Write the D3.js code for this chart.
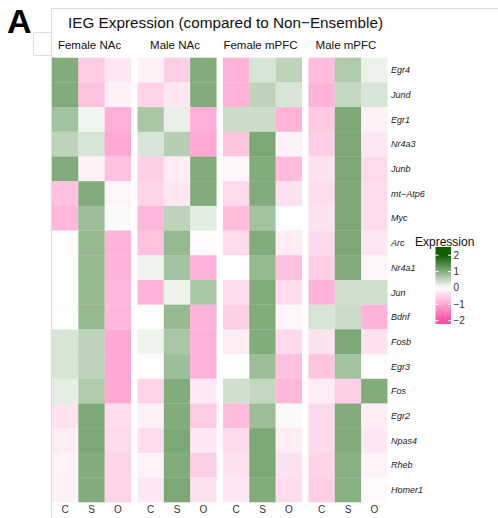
<!DOCTYPE html>
<html>
<head>
<meta charset="utf-8">
<script src="https://cdn.jsdelivr.net/npm/d3@7"></script>
<style>
  html, body { margin: 0; padding: 0; background: #fff; }
  svg { display: block; font-family: "Liberation Sans", Arial, Helvetica, sans-serif; }
</style>
</head>
<body>
<svg id="chart" width="498" height="518"></svg>
<script>
// Genes (rows, top to bottom)
const genes = ["Egr4", "Jund", "Egr1", "Nr4a3", "Junb", "mt\u2212Atp6", "Myc", "Arc", "Nr4a1",
               "Jun", "Bdnf", "Fosb", "Egr3", "Fos", "Egr2", "Npas4", "Rheb", "Homer1"];
// Panels and conditions within each panel
const groups = ["Female NAc", "Male NAc", "Female mPFC", "Male mPFC"];
const conditions = ["C", "S", "O"];
const legendTicks = [2, 1, 0, -1, -2];

// Scaled expression per gene, columns C, S, O
const femaleNAc = [
  [1.9, -1.1, -0.5], [1.9, -1.3, -0.3], [1.4, 0.2, -1.7], [1.0, 0.6, -1.8], [1.9, -0.3, -1.3],
  [-1.3, 1.9, -0.2], [-1.5, 1.5, 0.1], [-0.05, 1.6, -1.6], [0.0, 1.6, -1.6], [0.05, 1.6, -1.5],
  [0.05, 1.6, -1.5], [0.6, 1.0, -1.8], [0.6, 1.0, -1.8], [0.4, 1.2, -1.8], [-0.6, 2.0, -0.7],
  [-0.4, 2.0, -0.8], [-0.25, 1.9, -0.9], [-0.3, 1.9, -0.9]
];
const maleNAc = [
  [-0.3, -1.0, 1.9], [-0.9, -0.5, 1.9], [1.3, 0.35, -1.7], [0.6, 1.1, -1.8], [-1.0, -0.4, 1.9],
  [-0.9, -0.5, 1.9], [-1.5, 1.0, 0.45], [-1.3, 1.6, -0.1], [0.25, 1.4, -1.6], [-1.6, 0.3, 1.3],
  [-0.02, 1.6, -1.6], [0.25, 1.3, -1.6], [0.05, 1.5, -1.6], [-0.9, 1.9, -0.45], [-0.3, 1.9, -1.1],
  [-0.7, 2.0, -0.5], [-0.25, 1.9, -1.0], [-0.5, 2.0, -0.6]
];
const femaleMPFC = [
  [-1.6, 0.6, 1.0], [-1.6, 1.0, 0.6], [0.8, 0.8, -1.6], [-1.2, 2.0, -0.3], [-0.2, 1.9, -1.4],
  [-0.8, 1.9, -0.6], [-1.4, 1.4, 0.05], [-0.8, 1.9, -0.4], [-0.05, 1.6, -1.3], [-0.7, 1.9, -0.7],
  [-1.0, 1.9, -0.2], [-0.4, 1.9, -0.8], [0.0, 1.5, -1.3], [0.7, 0.9, -1.5], [-1.4, 1.5, 0.1],
  [-0.8, 2.0, -0.4], [-0.6, 2.0, -0.6], [-0.5, 1.9, -0.7]
];
const maleMPFC = [
  [-1.4, 1.2, 0.3], [-1.6, 0.9, 0.6], [-1.1, 2.0, -0.3], [-1.0, 2.0, -0.5], [-0.6, 2.0, -0.8],
  [-0.7, 2.0, -0.7], [-0.6, 2.0, -0.7], [-0.8, 2.0, -0.5], [-1.0, 1.9, -0.2], [-1.6, 0.75, 0.75],
  [0.6, 0.8, -1.6], [-0.6, 2.0, -0.6], [-1.2, 1.4, 0.05], [-0.4, -1.0, 1.9], [-0.8, 1.9, -0.4],
  [-0.8, 1.9, -0.5], [-0.9, 1.8, -0.25], [-1.0, 1.8, -0.1]
];
const panelValues = [femaleNAc, maleNAc, femaleMPFC, maleMPFC];

// Flatten into cells
const cells = [];
groups.forEach((g, gi) => {
  genes.forEach((gene, ri) => {
    conditions.forEach((c, ci) => {
      cells.push({ group: g, gene: gene, cond: c, value: panelValues[gi][ri][ci] });
    });
  });
});

const svg = d3.select("#chart");

// Frame lines of the figure box
const frame = svg.append("g").attr("fill", "none").attr("stroke", "#dcdcdc").attr("stroke-width", 1);
frame.append("path").attr("d", "M51.5,518 V8.5 H498");
frame.append("path").attr("d", "M51.5,32.5 H33.5 V55.5 H51.5");

// Panel letter and title
svg.append("text").attr("x", 7).attr("y", 33)
  .attr("font-size", 34).attr("font-weight", "bold").attr("fill", "#000").text("A");
svg.append("text").attr("x", 68).attr("y", 27.5)
  .attr("font-size", 15.3).attr("fill", "#111").text("IEG Expression (compared to Non\u2212Ensemble)");

// Scales
const xGroup = d3.scaleBand().domain(groups).range([52, 387.5]).paddingInner(0.075);
const xCond = d3.scaleBand().domain(conditions).range([0, xGroup.bandwidth()]);
const y = d3.scaleBand().domain(genes).range([57.7, 502.3]);
const color = d3.scaleLinear().domain([-2, 0, 2])
  .range(["#ff4fa6", "#ffffff", "#0c5e00"]).interpolate(d3.interpolateRgb).clamp(true);

// Heatmap cells (drawn translucent over white)
svg.append("g").selectAll("rect").data(cells).join("rect")
  .attr("x", d => xGroup(d.group) + xCond(d.cond))
  .attr("y", d => y(d.gene))
  .attr("width", xCond.bandwidth())
  .attr("height", y.bandwidth())
  .attr("fill", d => color(d.value))
  .attr("fill-opacity", 0.54);

// Panel headers
svg.append("g").selectAll("text").data(groups).join("text")
  .attr("x", d => xGroup(d) + xGroup.bandwidth() / 2 - 2)
  .attr("y", 48.5)
  .attr("text-anchor", "middle")
  .attr("font-size", 11.5)
  .attr("fill", "#111")
  .text(d => d);

// Condition labels under each panel
const condLabels = [];
groups.forEach(g => conditions.forEach(c => condLabels.push({ group: g, cond: c })));
svg.append("g").selectAll("text").data(condLabels).join("text")
  .attr("x", d => xGroup(d.group) + xCond(d.cond) + xCond.bandwidth() / 2)
  .attr("y", 513)
  .attr("text-anchor", "middle")
  .attr("font-size", 10)
  .attr("fill", "#333")
  .text(d => d.cond);

// Gene labels on the right
svg.append("g").selectAll("text").data(genes).join("text")
  .attr("x", 391)
  .attr("y", d => y(d) + y.bandwidth() / 2)
  .attr("dy", "0.35em")
  .attr("font-size", 9)
  .attr("font-style", "italic")
  .attr("fill", "#222")
  .text(d => d);

// Legend: continuous colour bar
const legY = d3.scaleLinear().domain([-2.2, 2.5]).range([324, 247]);
const legX0 = 435.5, legW = 15.5;
const defs = svg.append("defs");
const grad = defs.append("linearGradient").attr("id", "expr-grad")
  .attr("x1", 0).attr("y1", 1).attr("x2", 0).attr("y2", 0);
d3.range(0, 1.0001, 0.05).forEach(t => {
  const v = legY.domain()[0] + t * (legY.domain()[1] - legY.domain()[0]);
  grad.append("stop").attr("offset", t).attr("stop-color", color(v));
});
svg.append("text").attr("x", 415).attr("y", 245.5)
  .attr("font-size", 12).attr("fill", "#111").text("Expression");
svg.append("rect")
  .attr("x", legX0).attr("y", legY(2.5))
  .attr("width", legW).attr("height", legY(-2.2) - legY(2.5))
  .attr("fill", "url(#expr-grad)");
const lt = svg.append("g");
legendTicks.forEach(t => {
  lt.append("line").attr("x1", legX0).attr("x2", legX0 + 3)
    .attr("y1", legY(t)).attr("y2", legY(t)).attr("stroke", "#fff").attr("stroke-width", 1);
  lt.append("line").attr("x1", legX0 + legW - 3).attr("x2", legX0 + legW)
    .attr("y1", legY(t)).attr("y2", legY(t)).attr("stroke", "#fff").attr("stroke-width", 1);
  lt.append("text").attr("x", legX0 + legW + 2.5).attr("y", legY(t))
    .attr("dy", "0.35em").attr("font-size", 10).attr("fill", "#333")
    .text(t < 0 ? "\u2212" + Math.abs(t) : String(t));
});
</script>
</body>
</html>
